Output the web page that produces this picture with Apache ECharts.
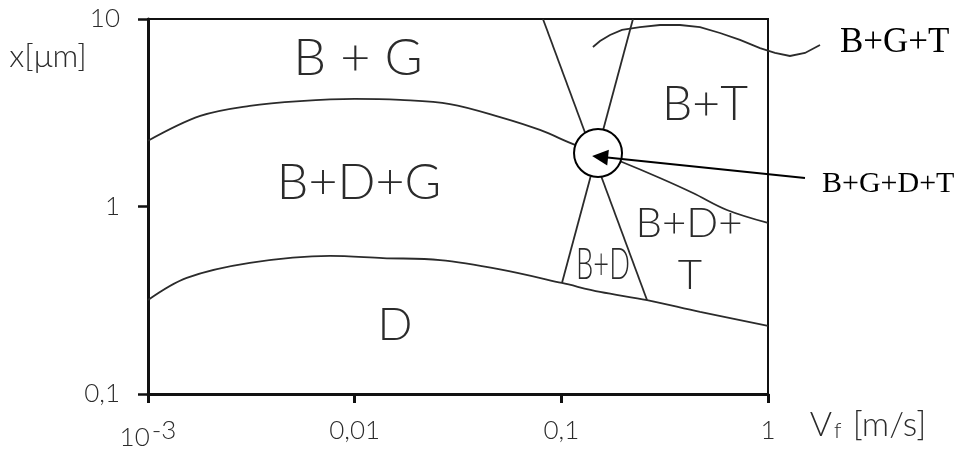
<!DOCTYPE html>
<html>
<head>
<meta charset="utf-8">
<script src="https://cdn.jsdelivr.net/npm/echarts@6/dist/echarts.min.js"></script>
<style>
  html, body { margin: 0; padding: 0; background: #fff; }
  #chart { width: 967px; height: 455px; }
</style>
</head>
<body>
<div id="chart"></div>
<script>
// axis ticks (log scales)
const vfTicks = [0.001, 0.01, 0.1, 1];
const vfTickLabels = ['10{sup|-3}', '0,01', '0,1', '1'];
const xTicks = [0.1, 1, 10];
const xTickLabels = ['0,1', '1', '10'];

// phase boundaries, [v_f (m/s), x (um)]
const bgBoundary = [
  [0.001, 2.24], [0.00179, 3.04], [0.00311, 3.44], [0.00544, 3.65], [0.01, 3.75],
  [0.0166, 3.70], [0.0289, 3.52], [0.0505, 3.0], [0.0788, 2.56], [0.1165, 2.13], [0.1505, 1.93]
];
const dBoundary = [
  [0.001, 0.317], [0.00154, 0.416], [0.00311, 0.50], [0.0076, 0.545], [0.0137, 0.531],
  [0.0259, 0.518], [0.0505, 0.462], [0.1007, 0.391], [0.154, 0.35],
  [0.26, 0.317], [0.469, 0.274], [1, 0.231]
];
const tBoundaryLeft = [[0.0815, 10], [0.2597, 0.317]];
const tBoundaryRight = [[0.2222, 10], [0.1007, 0.391]];
const btBoundary = [
  [0.1505, 1.93], [0.1966, 1.727], [0.300, 1.419], [0.4335, 1.18], [0.633, 0.958], [1, 0.817]
];
const bgtLeader = [
  [0.1422, 7.09], [0.1539, 7.63], [0.172, 8.22], [0.1966, 8.74], [0.2402, 9.06],
  [0.3001, 9.29], [0.3752, 9.29], [0.4688, 9.06], [0.5858, 8.42], [0.732, 7.73],
  [0.915, 7.0], [1.081, 6.59], [1.277, 6.35], [1.51, 6.59], [1.785, 7.27]
];
const quadPoint = [0.1505, 1.93];
const quadArrow = [[1.51, 1.42], [0.154, 1.84]];

const hand = { fontFamily: 'Lato', fontWeight: 300 };
const ink = '#2b2b2b';

function label(text, x, y, size, extra) {
  return Object.assign({
    type: 'text', x: x, y: y, z: 10,
    style: Object.assign({
      text: text, fontSize: size, fill: ink,
      textAlign: 'center', textVerticalAlign: 'middle'
    }, hand)
  }, extra || {});
}

function boundary(data) {
  return {
    type: 'line', data: data, smooth: 0.35, symbol: 'none', clip: false,
    lineStyle: { color: ink, width: 1.8 }, z: 3
  };
}

const chart = echarts.init(document.getElementById('chart'));
chart.setOption({
  animation: false,
  grid: {
    left: 148, top: 19, width: 620, height: 375,
    show: true, borderColor: '#111', borderWidth: 2
  },
  xAxis: {
    type: 'log', logBase: 10, min: 0.001, max: 1,
    splitLine: { show: false }, minorTick: { show: false },
    axisLine: { onZero: false, lineStyle: { color: '#111', width: 3 } },
    axisTick: { length: 9, lineStyle: { color: '#111', width: 3 } },
    axisLabel: {
      margin: 24, color: ink, fontSize: 26, fontFamily: 'Lato', fontWeight: 300,
      formatter: function (v) {
        const i = vfTicks.findIndex(t => Math.abs(Math.log10(t) - Math.log10(v)) < 1e-6);
        return i >= 0 ? vfTickLabels[i] : '';
      },
      rich: {
        sup: { fontSize: 26, fontFamily: 'Lato', fontWeight: 300, color: ink, verticalAlign: 'top', padding: [0, 0, 14, 2] }
      }
    }
  },
  yAxis: {
    type: 'log', logBase: 10, min: 0.1, max: 10,
    splitLine: { show: false }, minorTick: { show: false },
    axisLine: { lineStyle: { color: '#111', width: 3 } },
    axisTick: { length: 10, lineStyle: { color: '#111', width: 2.5 } },
    axisLabel: {
      margin: 28, color: ink, fontSize: 26, fontFamily: 'Lato', fontWeight: 300,
      formatter: function (v) {
        const i = xTicks.findIndex(t => Math.abs(Math.log10(t) - Math.log10(v)) < 1e-6);
        return i >= 0 ? xTickLabels[i] : '';
      }
    }
  },
  series: [
    boundary(bgBoundary),
    boundary(dBoundary),
    boundary(tBoundaryLeft),
    boundary(tBoundaryRight),
    boundary(btBoundary),
    {
      // wavy leader line running out to the B+G+T label
      type: 'lines', coordinateSystem: 'cartesian2d', polyline: true, clip: false, z: 3,
      lineStyle: { color: ink, width: 1.8, opacity: 1 },
      data: [{ coords: bgtLeader }]
    },
    {
      type: 'scatter', data: [quadPoint], symbol: 'circle', symbolSize: 48, z: 5,
      itemStyle: { color: '#fff', borderColor: '#000', borderWidth: 2, opacity: 1 }
    },
    {
      type: 'lines', coordinateSystem: 'cartesian2d', clip: false, z: 6,
      symbol: ['none', 'triangle'], symbolSize: [0, 16],
      lineStyle: { color: '#000', width: 2, opacity: 1 },
      itemStyle: { color: '#000' },
      data: [{ coords: quadArrow }]
    }
  ],
  graphic: [
    label('B + G', 358, 58, 52),
    label('B+D+G', 359, 183, 50),
    label('B+T', 705, 105, 48),
    label('B+D+', 689, 223, 42),
    label('T', 690, 275, 42),
    label('B+D', 603, 265, 44, { scaleX: 0.62 }),
    label('D', 395, 325, 46),
    label('x[μm]', 48, 57, 32),
    {
      type: 'text', x: 868, y: 425, z: 10,
      style: Object.assign({
        text: 'V{sub|f} [m/s]', fontSize: 34, fill: ink, textAlign: 'center', textVerticalAlign: 'middle',
        rich: { sub: { fontSize: 22, fontFamily: 'Lato', fontWeight: 300, fill: ink, padding: [12, 2, 0, 2] } }
      }, hand)
    },
    {
      type: 'text', x: 840, y: 43, z: 10,
      style: { text: 'B+G+T', fontSize: 35, fontFamily: 'Liberation Serif', fill: '#000', textAlign: 'left', textVerticalAlign: 'middle' }
    },
    {
      type: 'text', x: 822, y: 184, z: 10,
      style: { text: 'B+G+D+T', fontSize: 30, fontFamily: 'Liberation Serif', fill: '#000', textAlign: 'left', textVerticalAlign: 'middle' }
    }
  ]
});
</script>
</body>
</html>
